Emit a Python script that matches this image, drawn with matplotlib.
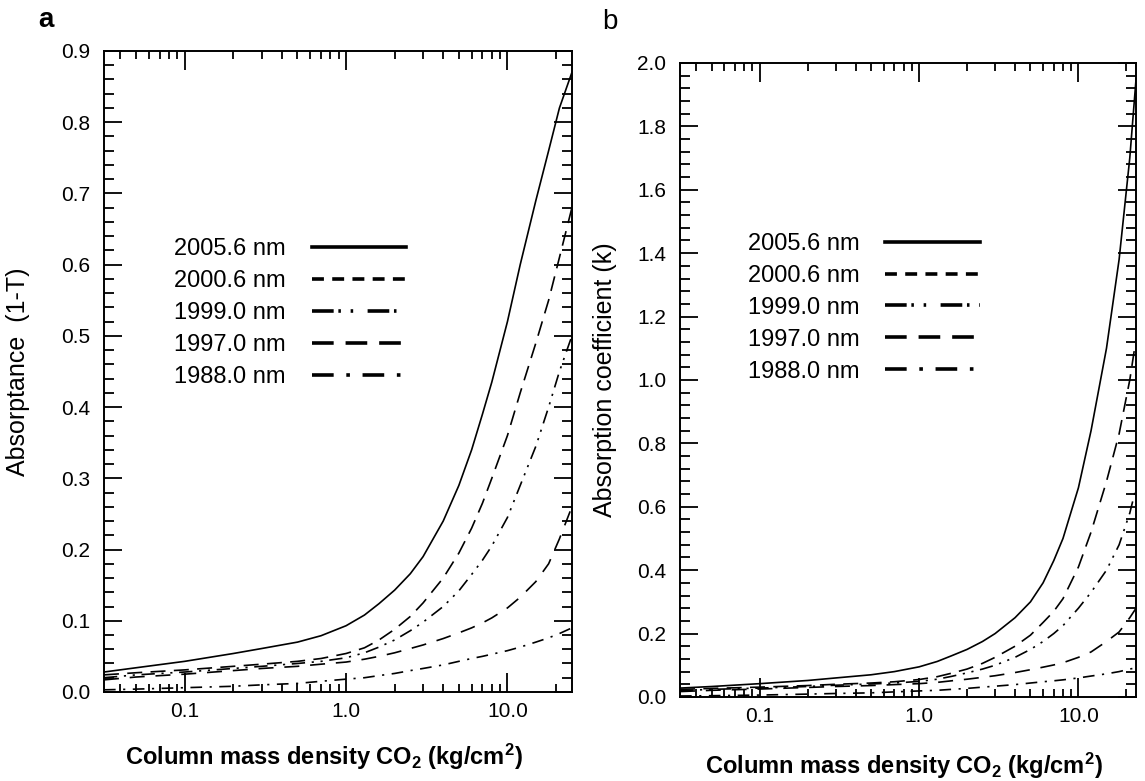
import matplotlib
matplotlib.use('Agg')
import matplotlib.pyplot as plt
from matplotlib.lines import Line2D
from matplotlib.ticker import MultipleLocator, FixedLocator, LogLocator, NullFormatter

plt.rcParams['font.family'] = ['Liberation Sans', 'DejaVu Sans']
plt.rcParams['mathtext.fontset'] = 'custom'
plt.rcParams['mathtext.rm'] = 'Liberation Sans:bold'
plt.rcParams['mathtext.it'] = 'Liberation Sans:bold'
plt.rcParams['mathtext.bf'] = 'Liberation Sans:bold'

# wavelengths (legend labels)
labels = ['2005.6 nm', '2000.6 nm', '1999.0 nm', '1997.0 nm', '1988.0 nm']

# panel a: absorptance (1-T) vs column mass density
x_a = [0.0316, 0.05, 0.1, 0.2, 0.3, 0.5, 0.7, 1.0, 1.3, 1.6, 2, 2.5, 3, 4, 5, 6, 7, 8, 10, 12, 15, 18, 21, 25.1]
a_2005 = [0.028, 0.034, 0.043, 0.054, 0.061, 0.070, 0.079, 0.093, 0.108, 0.124, 0.143, 0.166, 0.190, 0.240,
          0.290, 0.340, 0.390, 0.435, 0.520, 0.600, 0.690, 0.760, 0.820, 0.870]
a_2000 = [0.024, 0.027, 0.031, 0.036, 0.039, 0.043, 0.047, 0.054, 0.062, 0.073, 0.088, 0.106, 0.125, 0.160,
          0.195, 0.230, 0.265, 0.300, 0.360, 0.420, 0.490, 0.550, 0.610, 0.680]
a_1999 = [0.020, 0.024, 0.028, 0.033, 0.036, 0.040, 0.043, 0.048, 0.055, 0.063, 0.073, 0.086, 0.098, 0.120,
          0.142, 0.165, 0.185, 0.205, 0.245, 0.290, 0.345, 0.400, 0.450, 0.500]
a_1997 = [0.017, 0.021, 0.025, 0.030, 0.033, 0.036, 0.039, 0.042, 0.046, 0.050, 0.055, 0.061, 0.066, 0.075,
          0.083, 0.090, 0.097, 0.104, 0.118, 0.133, 0.155, 0.180, 0.215, 0.260]
a_1988 = [0.003, 0.004, 0.006, 0.008, 0.010, 0.012, 0.015, 0.018, 0.020, 0.023, 0.026, 0.030, 0.033, 0.038,
          0.043, 0.047, 0.050, 0.053, 0.058, 0.063, 0.070, 0.076, 0.082, 0.090]

# panel b: absorption coefficient k
x_b = [0.0316, 0.05, 0.1, 0.2, 0.3, 0.5, 0.7, 1.0, 1.3, 1.6, 2, 2.5, 3, 4, 5, 6, 7, 8, 10, 12, 15, 18, 21, 23]
b_2005 = [0.028, 0.033, 0.042, 0.052, 0.060, 0.070, 0.080, 0.095, 0.112, 0.130, 0.150, 0.175, 0.200, 0.250,
          0.300, 0.360, 0.430, 0.500, 0.660, 0.840, 1.100, 1.380, 1.700, 1.950]
b_2000 = [0.024, 0.027, 0.031, 0.036, 0.040, 0.044, 0.048, 0.055, 0.064, 0.075, 0.088, 0.106, 0.125, 0.160,
          0.195, 0.235, 0.270, 0.310, 0.410, 0.520, 0.680, 0.830, 1.000, 1.130]
b_1999 = [0.020, 0.024, 0.028, 0.033, 0.037, 0.041, 0.044, 0.049, 0.056, 0.065, 0.076, 0.088, 0.100, 0.125,
          0.150, 0.175, 0.200, 0.225, 0.280, 0.330, 0.400, 0.480, 0.580, 0.660]
b_1997 = [0.017, 0.021, 0.025, 0.030, 0.033, 0.036, 0.039, 0.042, 0.046, 0.051, 0.056, 0.062, 0.067, 0.077,
          0.086, 0.094, 0.101, 0.108, 0.125, 0.142, 0.175, 0.205, 0.250, 0.280]
b_1988 = [0.003, 0.004, 0.006, 0.009, 0.011, 0.013, 0.016, 0.019, 0.021, 0.024, 0.027, 0.031, 0.034, 0.039,
          0.044, 0.048, 0.051, 0.054, 0.060, 0.066, 0.073, 0.080, 0.088, 0.092]

# dash patterns for the curves and for the (thicker) legend samples
curve_dashes = [None, (9, 5), (8, 4, 1.3, 4, 1.3, 4), (9, 6.5), (7, 4.5, 1.3, 4.5)]
legend_dashes = [None, (3.3, 2.3), (6, 1.3, 0.7, 2.7, 0.7, 4), (6, 3.3), (6, 3.5, 1, 3.5)]


def style_axes(ax, ymax, ystep, yminor):
    ax.set_xscale('log')
    ax.set_ylim(0, ymax)
    ax.xaxis.set_major_locator(FixedLocator([0.1, 1.0, 10.0]))
    ax.set_xticklabels(['0.1', '1.0', '10.0'])
    ax.xaxis.set_minor_locator(LogLocator(base=10, subs=range(2, 10)))
    ax.xaxis.set_minor_formatter(NullFormatter())
    ax.yaxis.set_major_locator(MultipleLocator(ystep))
    ax.yaxis.set_minor_locator(MultipleLocator(yminor))
    ax.tick_params(which='both', direction='in', top=True, right=True, width=1.3, labelsize=15)
    ax.tick_params(axis='y', which='major', length=13, pad=10)
    ax.tick_params(axis='y', which='minor', length=7)
    ax.tick_params(axis='x', which='major', length=14, pad=7)
    ax.tick_params(axis='x', which='minor', length=6)
    for s in ax.spines.values():
        s.set_linewidth(1.4)


def draw(ax, x, series):
    for ys, d in zip(series, curve_dashes):
        line, = ax.plot(x, ys, color='black', lw=1.2)
        if d is not None:
            line.set_dashes(d)
    handles = []
    for lab, d in zip(labels, legend_dashes):
        h = Line2D([0], [0], color='black', lw=2.6, label=lab)
        if d is not None:
            h.set_dashes(d)
        handles.append(h)
    return handles


fig = plt.figure(figsize=(11.45, 7.81), dpi=100)
ax1 = fig.add_axes([0.0908, 0.114, 0.4087, 0.8207])
ax2 = fig.add_axes([0.5939, 0.1076, 0.3983, 0.8118])

h1 = draw(ax1, x_a, [a_2005, a_2000, a_1999, a_1997, a_1988])
style_axes(ax1, 0.9, 0.1, 0.02)
ax1.set_xlim(x_a[0], x_a[-1])
ax1.set_yticks([0.0, 0.1, 0.2, 0.3, 0.4, 0.5, 0.6, 0.7, 0.8, 0.9])
ax1.set_yticklabels(['0.0', '0.1', '0.2', '0.3', '0.4', '0.5', '0.6', '0.7', '0.8', '0.9'])
ax1.legend(handles=h1, loc='upper left', bbox_to_anchor=(0.150, 0.708), markerfirst=False,
           frameon=False, fontsize=17, handlelength=4.0, handletextpad=1.1,
           labelspacing=0.42, borderpad=0, borderaxespad=0)
ax1.set_ylabel('Absorptance  (1-T)', fontsize=18)
ax1.yaxis.set_label_coords(-0.158, 0.5)
ax1.set_xlabel(r'Column mass density CO$_2$ (kg/cm$^2$)', fontsize=17, fontweight='bold')
ax1.xaxis.set_label_coords(0.47, -0.078)

h2 = draw(ax2, x_b, [b_2005, b_2000, b_1999, b_1997, b_1988])
style_axes(ax2, 2.0, 0.2, 0.04)
ax2.set_xlim(x_b[0], x_b[-1])
ax2.set_yticks([0.0, 0.2, 0.4, 0.6, 0.8, 1.0, 1.2, 1.4, 1.6, 1.8, 2.0])
ax2.set_yticklabels(['0.0', '0.2', '0.4', '0.6', '0.8', '1.0', '1.2', '1.4', '1.6', '1.8', '2.0'])
ax2.legend(handles=h2, loc='upper left', bbox_to_anchor=(0.148, 0.732), markerfirst=False,
           frameon=False, fontsize=17, handlelength=4.0, handletextpad=1.1,
           labelspacing=0.42, borderpad=0, borderaxespad=0)
ax2.set_ylabel('Absorption coefficient (k)', fontsize=18)
ax2.yaxis.set_label_coords(-0.138, 0.5)
ax2.set_xlabel(r'Column mass density CO$_2$ (kg/cm$^2$)', fontsize=17, fontweight='bold')
ax2.xaxis.set_label_coords(0.49, -0.085)

fig.text(0.040, 0.975, 'a', fontsize=20, fontweight='bold', ha='center', va='center')
fig.text(0.533, 0.972, 'b', fontsize=20, ha='center', va='center')

fig.savefig('out.png', dpi=100)
